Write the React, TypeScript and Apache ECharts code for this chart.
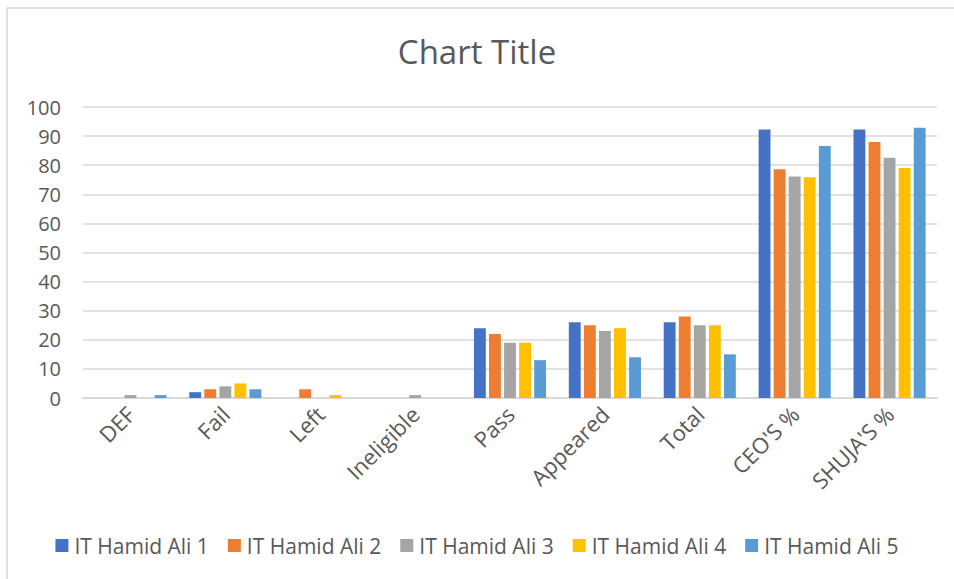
import React, { useEffect, useRef } from "react";
import * as echarts from "echarts";

const categories = ["DEF", "Fail", "Left", "Ineligible", "Pass", "Appeared", "Total", "CEO'S %", "SHUJA'S %"];
const seriesNames = ["IT Hamid Ali 1", "IT Hamid Ali 2", "IT Hamid Ali 3", "IT Hamid Ali 4", "IT Hamid Ali 5"];
const ali1 = [0, 2, 0, 0, 24, 26, 26, 92.3, 92.3];
const ali2 = [0, 3, 3, 0, 22, 25, 28, 78.6, 88.0];
const ali3 = [1, 4, 0, 1, 19, 23, 25, 76.1, 82.6];
const ali4 = [0, 5, 1, 0, 19, 24, 25, 75.9, 79.0];
const ali5 = [1, 3, 0, 0, 13, 14, 15, 86.6, 92.9];
const colors = ["#4472C4", "#ED7D31", "#A5A5A5", "#FFC000", "#5B9BD5"];

export default function App() {
  const ref = useRef<HTMLDivElement>(null);
  useEffect(() => {
    const chart = echarts.init(ref.current!, null, { renderer: "svg" });
    const data = [ali1, ali2, ali3, ali4, ali5];
    const font = "Open Sans, Noto Sans, sans-serif";
    chart.setOption({
      animation: false,
      backgroundColor: "#ffffff",
      textStyle: { fontFamily: font },
      title: {
        text: "Chart Title",
        left: "center",
        top: 30,
        textStyle: { fontSize: 33, fontWeight: "normal", color: "#595959", fontFamily: font },
      },
      graphic: [
        {
          type: "rect",
          shape: { x: 7, y: 8, width: 960, height: 600 },
          style: { fill: "none", stroke: "#d9d9d9", lineWidth: 1.5 },
          silent: true,
        },
      ],
      legend: {
        top: 530,
        left: "center",
        itemWidth: 13,
        itemHeight: 13,
        itemGap: 19,
        icon: "rect",
        textStyle: { fontSize: 21, color: "#595959", fontFamily: font, padding: [0, 0, 0, 1] },
        data: seriesNames,
      },
      grid: { left: 83, right: 17, top: 107, bottom: 181 },
      xAxis: {
        type: "category",
        data: categories,
        axisLine: { lineStyle: { color: "#d9d9d9", width: 2 } },
        axisTick: { show: false },
        axisLabel: { rotate: 45, fontSize: 22, color: "#595959", margin: 12, interval: 0, fontFamily: font },
      },
      yAxis: {
        type: "value",
        min: 0,
        max: 100,
        interval: 10,
        axisLine: { show: false },
        axisTick: { show: false },
        splitLine: { lineStyle: { color: "#d9d9d9", width: 1.5 } },
        axisLabel: { fontSize: 20, color: "#595959", margin: 22, fontFamily: font },
      },
      series: data.map((d, i) => ({
        name: seriesNames[i],
        type: "bar",
        data: d,
        itemStyle: { color: colors[i] },
        barGap: "27%",
        barCategoryGap: "24%",
      })),
    });
    return () => chart.dispose();
  }, []);
  return <div ref={ref} style={{ position: "fixed", left: 0, top: 0, width: 954, height: 579 }} />;
}
